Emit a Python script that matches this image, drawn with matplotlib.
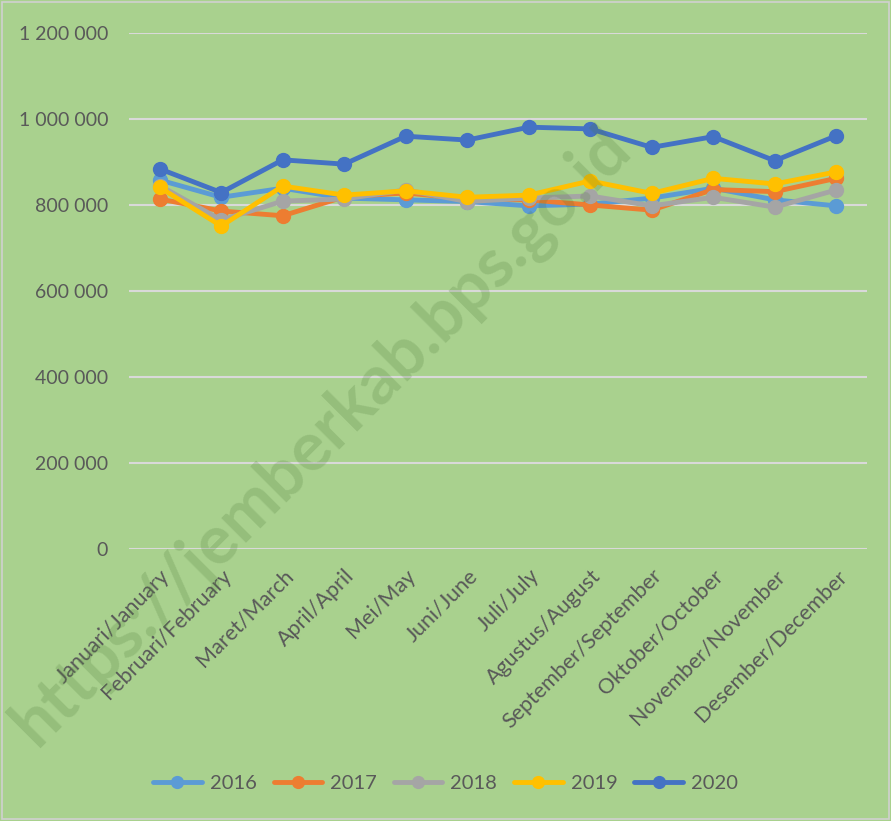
import matplotlib
matplotlib.use("Agg")
import matplotlib.pyplot as plt
from matplotlib.ticker import FuncFormatter
from matplotlib.patches import Rectangle

plt.rcParams["font.family"] = ["Lato", "DejaVu Sans"]

months = ["Januari/January", "Februari/February", "Maret/March", "April/April",
          "Mei/May", "Juni/June", "Juli/July", "Agustus/August",
          "September/September", "Oktober/October", "November/November",
          "Desember/December"]

v2016 = [858000, 818000, 839000, 816000, 812000, 808000, 798000, 802000, 816000, 839000, 812000, 798000]
v2017 = [814000, 786000, 775000, 819000, 828000, 814000, 812000, 800000, 788000, 836000, 831000, 862000]
v2018 = [845000, 765000, 809000, 814000, 835000, 808000, 816000, 821000, 798000, 818000, 795000, 835000]
v2019 = [841000, 751000, 844000, 823000, 833000, 818000, 823000, 856000, 827000, 862000, 849000, 877000]
v2020 = [884000, 829000, 905000, 895000, 960000, 951000, 981000, 977000, 934000, 959000, 903000, 961000]

series = [("2016", v2016, "#5B9BD5"), ("2017", v2017, "#ED7D31"),
          ("2018", v2018, "#A5A5A5"), ("2019", v2019, "#FFC000"),
          ("2020", v2020, "#4472C4")]

bg = "#A9D18E"
fig = plt.figure(figsize=(8.91, 8.21), dpi=100, facecolor=bg)
ax = fig.add_axes([129 / 891, 1 - 549 / 821, 738 / 891, 516 / 821])
ax.set_facecolor(bg)

x = list(range(len(months)))
for name, vals, col in series:
    ax.plot(x, vals, color=col, lw=3.5, marker="o", markersize=10, label=name,
            solid_capstyle="round", zorder=3)

ax.set_xlim(-0.5, len(months) - 0.5)
ax.set_ylim(0, 1200000)
ax.set_yticks(range(0, 1200001, 200000))
ax.yaxis.set_major_formatter(FuncFormatter(lambda v, p: f"{int(v):,}".replace(",", " ")))
ax.grid(axis="y", color="#D9D9D9", lw=1.5, zorder=0)
for s in ax.spines.values():
    s.set_visible(False)
ax.tick_params(axis="both", length=0, colors="#595959")
ax.tick_params(axis="y", pad=15, labelsize=14)
ax.set_xticks(x)
ax.set_xticklabels(months, rotation=45, ha="right", rotation_mode="anchor")
ax.tick_params(axis="x", pad=12, labelsize=15.5)

leg = fig.legend(loc="center", bbox_to_anchor=(0.5, 1 - 783 / 821), ncol=5,
                 frameon=False, fontsize=14.5, handlelength=2.4, columnspacing=0.85,
                 handletextpad=0.4, markerscale=0.85)
for t in leg.get_texts():
    t.set_color("#595959")

fig.text(0.362, 0.468, "https://jemberkab.bps.go.id", rotation=45, fontsize=49,
         fontweight="bold", color="#4E7A3A", alpha=0.22, ha="center", va="center")

fig.patches.append(Rectangle((0.002, 0.002), 0.996, 0.996, transform=fig.transFigure,
                             fill=False, edgecolor="#D0D0D0", lw=1.2))

fig.savefig("out.png", dpi=100, facecolor=bg)
